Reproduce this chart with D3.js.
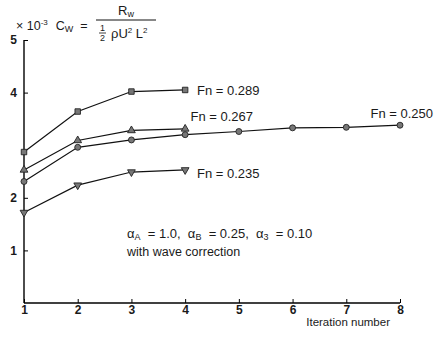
<!DOCTYPE html>
<html>
<head>
<meta charset="utf-8">
<script src="https://cdn.jsdelivr.net/npm/d3@7"></script>
<style>
  body { margin: 0; background: #fff; }
  text { font-family: "Liberation Sans", "DejaVu Sans", sans-serif; fill: #1a1a1a; }
</style>
</head>
<body>
<div id="chart"></div>
<script>
// iteration numbers on the x axis
const iterations = [1, 2, 3, 4, 5, 6, 7, 8];
const yTicks = [1, 2, 4, 5];

// Cw x 10^-3 per iteration, one array per Froude number
const fn289 = [2.87, 3.64, 4.02, 4.05];
const fn267 = [2.53, 3.09, 3.28, 3.31];
const fn250 = [2.31, 2.96, 3.10, 3.20, 3.26, 3.33, 3.34, 3.38];
const fn235 = [1.72, 2.24, 2.49, 2.53];

const seriesLabels = ['Fn = 0.289', 'Fn = 0.267', 'Fn = 0.250', 'Fn = 0.235'];

const width = 434, height = 337;
const margin = { top: 40, right: 34, bottom: 34, left: 24 };

const svg = d3.select('#chart').append('svg')
  .attr('width', width)
  .attr('height', height);

const x = d3.scaleLinear().domain([1, 8]).range([margin.left, width - margin.right]);
const y = d3.scaleLinear().domain([0, 5]).range([height - margin.bottom, margin.top]);

// axes, ticks point inward
const xAxis = svg.append('g')
  .attr('transform', `translate(0 ${y(0)})`)
  .call(d3.axisBottom(x).tickValues(iterations).tickSize(-4).tickPadding(2).tickFormat(d3.format('d')));
xAxis.select('.domain').attr('stroke-width', 1.4).attr('d', `M${x(1)},0H${x(8)}`);
xAxis.selectAll('text').attr('font-size', 12).attr('font-weight', 'bold');

const yAxis = svg.append('g')
  .attr('transform', `translate(${x(1)} 0)`)
  .call(d3.axisLeft(y).tickValues(yTicks).tickSize(-4).tickPadding(7).tickFormat(d3.format('d')));
yAxis.select('.domain').attr('stroke-width', 1.4).attr('d', `M0,${y(5)}V${y(0)}`);
yAxis.selectAll('text').attr('font-size', 12).attr('font-weight', 'bold');

const line = d3.line().x((d, i) => x(iterations[i])).y(d => y(d));

const series = [
  { values: fn289, shape: d3.symbolSquare, size: 30, rot: 0 },
  { values: fn267, shape: d3.symbolTriangle, size: 26, rot: 0 },
  { values: fn250, shape: d3.symbolCircle, size: 28, rot: 0 },
  { values: fn235, shape: d3.symbolTriangle, size: 26, rot: 180 }
];

series.forEach(s => {
  svg.append('path')
    .datum(s.values)
    .attr('d', line)
    .attr('fill', 'none')
    .attr('stroke', '#111')
    .attr('stroke-width', 1.2);
  svg.selectAll(null)
    .data(s.values)
    .join('path')
    .attr('d', d3.symbol(s.shape, s.size))
    .attr('transform', (d, i) => `translate(${x(iterations[i])},${y(d)}) rotate(${s.rot})`)
    .attr('fill', '#777')
    .attr('stroke', '#222')
    .attr('stroke-width', 0.9);
});

// series labels
const labelPos = [
  { xv: 4.22, yv: 4.05, dy: 5 },
  { xv: 4.1, yv: 3.55, dy: 5 },
  { xv: 7.45, yv: 3.62, dy: 5 },
  { xv: 4.22, yv: 2.5, dy: 6 }
];
svg.selectAll('.flabel')
  .data(seriesLabels)
  .join('text')
  .attr('class', 'flabel')
  .attr('x', (d, i) => x(labelPos[i].xv))
  .attr('y', (d, i) => y(labelPos[i].yv) + labelPos[i].dy)
  .attr('font-size', 13)
  .text(d => d);

// parameter note
const note = svg.append('text').attr('font-size', 13).attr('x', 127).attr('y', 238)
  .style('white-space', 'pre');
note.append('tspan').text('α');
note.append('tspan').attr('font-size', 9).attr('dy', 2).text('A');
note.append('tspan').attr('dy', -2).text('  = 1.0,  α');
note.append('tspan').attr('font-size', 9).attr('dy', 2).text('B');
note.append('tspan').attr('dy', -2).text('  = 0.25,  α');
note.append('tspan').attr('font-size', 9).attr('dy', 2).text('3');
note.append('tspan').attr('dy', -2).text('  = 0.10');
svg.append('text').attr('font-size', 12.5).attr('x', 127).attr('y', 256).text('with wave correction');

// x axis title
svg.append('text').attr('font-size', 11.5).attr('x', 390).attr('y', 326)
  .attr('text-anchor', 'end').text('Iteration number');

// y axis header: x 10^-3  Cw = Rw / (1/2 rho U^2 L^2)
const head = svg.append('text').attr('font-size', 12.5).attr('x', 16).attr('y', 30)
  .style('white-space', 'pre');
head.append('tspan').text('× 10');
head.append('tspan').attr('font-size', 8).attr('dy', -5).text('-3');
head.append('tspan').attr('dy', 5).attr('dx', 8).text('C');
head.append('tspan').attr('font-size', 9).attr('dy', 2).text('W');
head.append('tspan').attr('dy', -2).text('  =');

svg.append('line').attr('x1', 96).attr('x2', 156).attr('y1', 20).attr('y2', 20)
  .attr('stroke', '#111').attr('stroke-width', 1);
const num = svg.append('text').attr('font-size', 13).attr('x', 118).attr('y', 15);
num.append('tspan').text('R');
num.append('tspan').attr('font-size', 9).attr('dy', 2).text('w');

const den = svg.append('text').attr('font-size', 13).attr('x', 111).attr('y', 38);
den.append('tspan').text('ρU');
den.append('tspan').attr('font-size', 8).attr('dy', -5).text('2');
den.append('tspan').attr('dy', 5).text(' L');
den.append('tspan').attr('font-size', 8).attr('dy', -5).text('2');
svg.append('text').attr('font-size', 9).attr('x', 100).attr('y', 31).text('1');
svg.append('line').attr('x1', 99).attr('x2', 106).attr('y1', 33).attr('y2', 33)
  .attr('stroke', '#111').attr('stroke-width', 0.8);
svg.append('text').attr('font-size', 9).attr('x', 100).attr('y', 41).text('2');
</script>
</body>
</html>
